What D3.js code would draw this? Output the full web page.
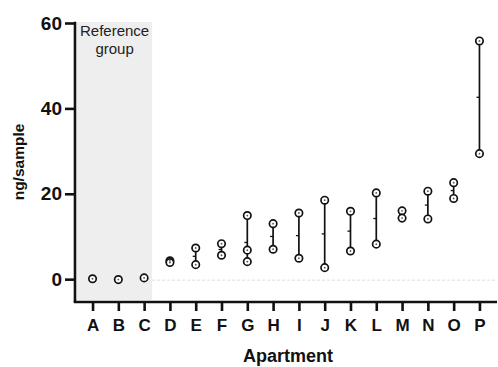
<!DOCTYPE html>
<html>
<head>
<meta charset="utf-8">
<script src="https://cdn.jsdelivr.net/npm/d3@7"></script>
<style>
  body { margin: 0; background: #fff; }
  svg { display: block; font-family: "Liberation Sans", Arial, sans-serif; }
</style>
</head>
<body>
<div id="chart"></div>
<script>
var apartments = ["A", "B", "C", "D", "E", "F", "G", "H", "I", "J", "K", "L", "M", "N", "O", "P"];
// individual samples per apartment (ng/sample)
var samples = [
  [0.1],
  [-0.1],
  [0.3],
  [4.3, 3.9],
  [7.3, 3.4],
  [8.3, 5.6],
  [14.9, 6.8, 4.1],
  [13.0, 7.0],
  [15.5, 4.9],
  [18.5, 2.7],
  [15.9, 6.6],
  [20.2, 8.2],
  [16.0, 14.3],
  [20.6, 14.1],
  [22.6, 18.9],
  [55.8, 29.4]
];
var referenceGroup = ["A", "B", "C"];
var yTicks = [0, 20, 40, 60];

var width = 498, height = 367;

var svg = d3.select("#chart").append("svg")
  .attr("width", width)
  .attr("height", height);

var x = d3.scalePoint()
  .domain(apartments)
  .range([75, 497])
  .padding(0.68);

var y = d3.scaleLinear()
  .domain([-5.35, 60])
  .range([302, 23]);

// shaded reference group
var refEnd = x(referenceGroup[referenceGroup.length - 1]) + 8;
svg.append("rect")
  .attr("x", 77)
  .attr("y", y(60) - 1)
  .attr("width", refEnd - 77)
  .attr("height", y(-5.35) - y(60) - 1)
  .style("fill", "#eeeeee");

svg.append("text")
  .attr("x", (77 + refEnd) / 2)
  .attr("y", 36)
  .attr("text-anchor", "middle")
  .style("font-size", "15px")
  .style("fill", "#222")
  .text("Reference");
svg.append("text")
  .attr("x", (77 + refEnd) / 2)
  .attr("y", 54)
  .attr("text-anchor", "middle")
  .style("font-size", "15px")
  .style("fill", "#222")
  .text("group");

// faint baseline at zero
svg.append("line")
  .attr("x1", refEnd)
  .attr("x2", 497)
  .attr("y1", y(0) + 1)
  .attr("y2", y(0) + 1)
  .style("stroke", "#e8e8e8")
  .style("stroke-width", 1.5)
  .style("stroke-dasharray", "3,2");

// axes
var yAxis = svg.append("g")
  .attr("transform", "translate(75,0)")
  .call(d3.axisLeft(y).tickValues(yTicks).tickSize(10).tickSizeOuter(0).tickPadding(3));

var xAxis = svg.append("g")
  .attr("transform", "translate(0,302)")
  .call(d3.axisBottom(x).tickSize(9).tickSizeOuter(0).tickPadding(8));

[yAxis, xAxis].forEach(function(a) {
  a.select(".domain").style("stroke", "#111").style("stroke-width", 2.6);
  a.selectAll(".tick line").style("stroke", "#111").style("stroke-width", 2.6);
});
yAxis.select(".domain").attr("d", "M0,302V" + (y(60) - 1.3));
yAxis.selectAll(".tick text")
  .style("font-size", "19px")
  .style("font-weight", "bold")
  .style("fill", "#111")
  .style("font-family", "'Liberation Sans', Arial, sans-serif");
xAxis.select(".domain").attr("d", "M" + 73.7 + ",0H497");
xAxis.selectAll(".tick text")
  .style("font-size", "17px")
  .style("font-weight", "bold")
  .style("fill", "#111")
  .style("font-family", "'Liberation Sans', Arial, sans-serif");

// axis titles
svg.append("text")
  .attr("x", 288)
  .attr("y", 362)
  .attr("text-anchor", "middle")
  .style("font-size", "18px")
  .style("font-weight", "bold")
  .style("fill", "#111")
  .text("Apartment");

svg.append("text")
  .attr("transform", "translate(24,162) rotate(-90)")
  .attr("text-anchor", "middle")
  .style("font-size", "15.5px")
  .style("font-weight", "bold")
  .style("fill", "#111")
  .text("ng/sample");

// data
var groups = svg.selectAll(".apt")
  .data(apartments.map(function(a, i) { return { name: a, values: samples[i] }; }))
  .enter()
  .append("g")
  .attr("class", "apt");

groups.filter(function(d) { return d.values.length > 1; })
  .append("line")
  .attr("x1", function(d) { return x(d.name); })
  .attr("x2", function(d) { return x(d.name); })
  .attr("y1", function(d) { return y(d3.max(d.values)); })
  .attr("y2", function(d) { return y(d3.min(d.values)); })
  .style("stroke", "#111")
  .style("stroke-width", 1.7);

// mean tick
groups.filter(function(d) { return d.values.length > 1; })
  .append("line")
  .attr("x1", function(d) { return x(d.name) - 3; })
  .attr("x2", function(d) { return x(d.name); })
  .attr("y1", function(d) { return y(d3.mean(d.values)); })
  .attr("y2", function(d) { return y(d3.mean(d.values)); })
  .style("stroke", "#111")
  .style("stroke-width", 1.3);

groups.selectAll("circle")
  .data(function(d) { return d.values.map(function(v) { return { name: d.name, v: v }; }); })
  .enter()
  .append("circle")
  .attr("cx", function(d) { return x(d.name); })
  .attr("cy", function(d) { return y(d.v); })
  .attr("r", 3.7)
  .style("fill", "#fff")
  .style("stroke", "#111")
  .style("stroke-width", 1.7);

groups.selectAll(".dot")
  .data(function(d) { return d.values.map(function(v) { return { name: d.name, v: v }; }); })
  .enter()
  .append("circle")
  .attr("class", "dot")
  .attr("cx", function(d) { return x(d.name); })
  .attr("cy", function(d) { return y(d.v); })
  .attr("r", 0.9)
  .style("fill", "#555");
</script>
</body>
</html>
